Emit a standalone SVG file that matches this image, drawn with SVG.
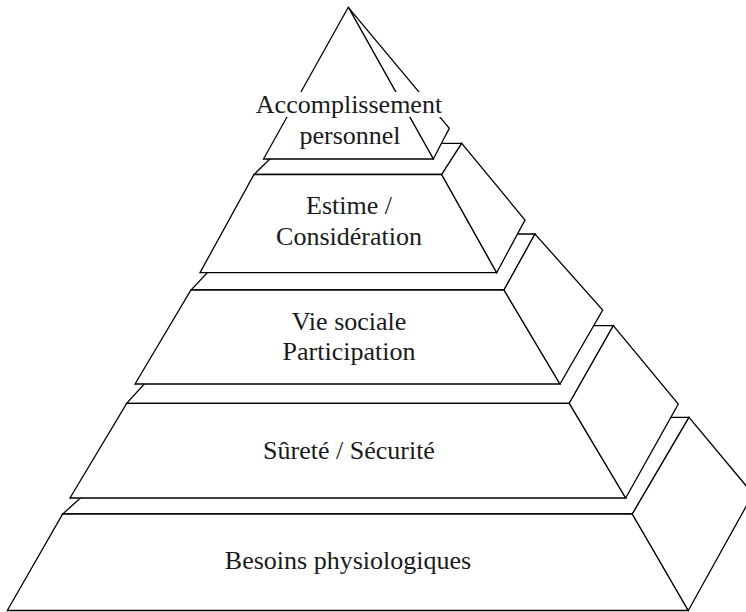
<svg xmlns="http://www.w3.org/2000/svg" width="746" height="612" viewBox="0 0 746 612">
<style>
  .f { fill: #ffffff; stroke: #000000; stroke-width: 1.3; stroke-linejoin: miter; }
  .t { font-family: "Liberation Serif", "DejaVu Serif", serif; font-size: 26px; fill: #1a1a1a; text-anchor: middle; }
  .bg { fill: #ffffff; stroke: none; }
</style>
<rect x="0" y="0" width="746" height="612" fill="#ffffff"/>
<g id="connectors"/>
<g id="level5">
  <polygon class="f" points="170,417.3 689,417.3 632.3,514 62.7,514"/>
  <polygon class="f" points="62.7,514 632.3,514 688.3,610.5 7.3,610.5"/>
  <polygon class="f" points="632.3,514 689,417.3 753,494 688.3,610.5"/>
  <text class="t" x="348" y="568.5">Besoins physiologiques</text>
</g>
<g id="level4">
  <polygon class="f" points="197.3,325.7 613.3,325.7 569.3,403.3 126.7,403.3"/>
  <polygon class="f" points="126.7,403.3 569.3,403.3 625.7,498 70,498"/>
  <polygon class="f" points="569.3,403.3 613.3,325.7 678.3,404 625.7,498"/>
  <text class="t" x="349" y="459.3">Sûreté / Sécurité</text>
</g>
<g id="level3">
  <polygon class="f" points="243.7,234 535,234 504,290 191,290"/>
  <polygon class="f" points="191,290 504,290 560,384 135,384"/>
  <polygon class="f" points="504,290 535,234 602.7,310 560,384"/>
  <text class="t" x="349" y="330">Vie sociale</text>
  <text class="t" x="349" y="360">Participation</text>
</g>
<g id="level2">
  <polygon class="f" points="286,143.3 461.7,143.3 441.7,174.5 254,174.5"/>
  <polygon class="f" points="254,174.5 441.7,174.5 496.7,272.7 200,272.7"/>
  <polygon class="f" points="441.7,174.5 461.7,143.3 525,220 496.7,272.7"/>
  <text class="t" x="349" y="214">Estime /</text>
  <text class="t" x="349" y="245">Considération</text>
</g>
<g id="level1">
  <polygon class="f" points="348.3,7.3 449.3,128.3 433.3,159"/>
  <polygon class="f" points="348.3,7.3 433.3,159 263.5,159"/>
  <rect class="bg" x="254" y="92" width="190" height="25"/>
  <text class="t" x="349" y="113.3">Accomplissement</text>
  <text class="t" x="350" y="144">personnel</text>
</g>
</svg>
